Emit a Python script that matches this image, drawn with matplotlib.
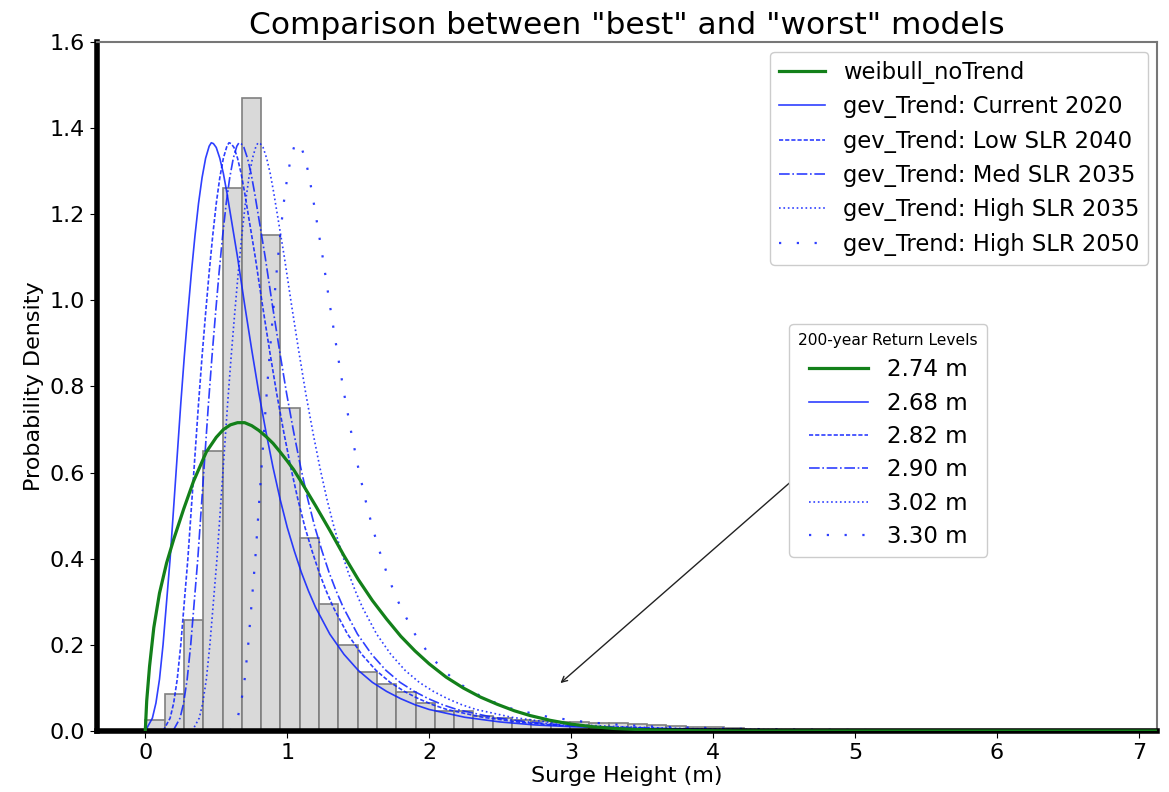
import numpy as np
import matplotlib
matplotlib.use("Agg")
import matplotlib.pyplot as plt
from matplotlib.lines import Line2D

# ---------------- data ----------------
hist_bin_width = 0.136
hist_heights = [0.026, 0.085, 0.258, 0.650, 1.262, 1.471, 1.151, 0.750, 0.448, 0.295,
                0.200, 0.136, 0.109, 0.091, 0.066, 0.046, 0.047, 0.036, 0.030, 0.026,
                0.024, 0.022, 0.020, 0.018, 0.018, 0.016, 0.013, 0.012, 0.010, 0.010, 0.008]

weibull_x = [0.0, 0.01, 0.03, 0.06, 0.10, 0.15, 0.20, 0.27, 0.34, 0.43, 0.50, 0.55, 0.60,
             0.65, 0.70, 0.75, 0.80, 0.85, 0.90, 0.95, 1.00, 1.045, 1.10, 1.20, 1.30, 1.40,
             1.50, 1.60, 1.70, 1.80, 1.90, 2.00, 2.12, 2.24, 2.36, 2.48, 2.60, 2.71, 2.85,
             3.00, 3.15, 3.30, 3.50, 3.80, 4.20, 7.20]
weibull_y = [0.0, 0.07, 0.15, 0.24, 0.32, 0.39, 0.445, 0.515, 0.580, 0.648, 0.682, 0.700, 0.711,
             0.716, 0.716, 0.709, 0.698, 0.684, 0.668, 0.648, 0.627, 0.607, 0.578, 0.523, 0.466, 0.407,
             0.352, 0.303, 0.260, 0.220, 0.186, 0.156, 0.125, 0.100, 0.079, 0.062, 0.047, 0.036, 0.025,
             0.016, 0.010, 0.006, 0.003, 0.001, 0.0, 0.0]

# GEV (Current 2020) density curve
gev_x = [0.0, 0.05, 0.075, 0.10, 0.125, 0.15, 0.175, 0.20, 0.225, 0.25, 0.275, 0.30, 0.325,
         0.35, 0.375, 0.40, 0.425, 0.45, 0.465, 0.48, 0.50, 0.525, 0.55, 0.575, 0.60, 0.65,
         0.70, 0.75, 0.80, 0.85, 0.90, 0.95, 1.00, 1.05, 1.10, 1.15, 1.20, 1.30, 1.40, 1.50,
         1.60, 1.70, 1.80, 1.90, 2.00, 2.25, 2.50, 2.75, 3.00, 3.50, 4.00, 5.00, 6.00, 7.50]
gev_y = [0.0, 0.03, 0.065, 0.12, 0.20, 0.30, 0.40, 0.52, 0.64, 0.76, 0.87, 0.97, 1.065,
         1.15, 1.225, 1.285, 1.33, 1.358, 1.366, 1.364, 1.355, 1.33, 1.295, 1.25, 1.20, 1.10,
         0.99, 0.885, 0.785, 0.695, 0.612, 0.538, 0.473, 0.418, 0.368, 0.325, 0.287, 0.225, 0.178, 0.141,
         0.113, 0.092, 0.075, 0.061, 0.050, 0.032, 0.021, 0.014, 0.010, 0.0055, 0.0032, 0.0013, 0.0006, 0.0002]
# location shift of each scenario's curve relative to Current 2020
gev_shift = [0.0, 0.125, 0.195, 0.33, 0.60]
gev_labels = ["gev_Trend: Current 2020", "gev_Trend: Low SLR 2040", "gev_Trend: Med SLR 2035",
              "gev_Trend: High SLR 2035", "gev_Trend: High SLR 2050"]
return_levels = ["2.74 m", "2.68 m", "2.82 m", "2.90 m", "3.02 m", "3.30 m"]

# ---------------- styling ----------------
plt.rcParams['font.family'] = ['DejaVu Sans']
blue = '#0a1eff'
green = '#13801a'
gev_styles = ['-', (0, (2.5, 1.2)), '-.', ':', (0, (1, 7))]
gev_lw = [1.2, 1.2, 1.2, 1.2, 1.6]

fig = plt.figure(figsize=(11.69, 7.92), dpi=100)
ax = fig.add_axes([0.083, 0.077, 0.907, 0.870])

edges = np.arange(len(hist_heights)) * hist_bin_width
ax.bar(edges, hist_heights, width=hist_bin_width, align='edge',
       color='#d9d9d9', edgecolor='#808080', linewidth=1.2, zorder=1)

wl, = ax.plot(weibull_x, weibull_y, color=green, lw=2.3, label='weibull_noTrend', zorder=3)
handles = [wl]
for s, lab, ls, lw in zip(gev_shift, gev_labels, gev_styles, gev_lw):
    h, = ax.plot(np.array(gev_x) + s, gev_y, color=blue, alpha=0.85, lw=lw, ls=ls,
                 label=lab, zorder=2)
    handles.append(h)

leg1 = ax.legend(handles=handles, loc='upper right', fontsize=16.3, handlelength=2.0,
                 bbox_to_anchor=(0.9915, 0.9855), borderaxespad=0.0, framealpha=1.0)
ax.add_artist(leg1)

h2 = [Line2D([], [], color=green, lw=2.3)]
for ls, lw in zip(gev_styles, gev_lw):
    h2.append(Line2D([], [], color=blue, alpha=0.85, lw=lw, ls=ls))
leg2 = ax.legend(handles=h2, labels=return_levels, loc='lower left',
                 bbox_to_anchor=(0.6528, 0.2525), borderaxespad=0.0, fontsize=16.5,
                 title='200-year Return Levels', title_fontsize=11.2,
                 handlelength=2.6, labelspacing=0.45, framealpha=1.0)

ax.annotate('', xy=(2.91, 0.107), xytext=(4.58, 0.588),
            arrowprops=dict(arrowstyle='->', color='#222222', lw=1.0))

ax.set_xlim(-0.34, 7.13)
ax.set_ylim(0, 1.6)
ax.set_yticks(np.arange(0, 1.61, 0.2))
ax.set_xticks(range(0, 8))
ax.tick_params(labelsize=16, length=5)
ax.set_title('Comparison between "best" and "worst" models', fontsize=22.5, pad=6)
ax.set_xlabel('Surge Height (m)', fontsize=16, labelpad=2)
ax.set_ylabel('Probability Density', fontsize=16)

for side in ['left', 'bottom']:
    ax.spines[side].set_linewidth(4)
    ax.spines[side].set_color('black')
for side in ['top', 'right']:
    ax.spines[side].set_linewidth(1.5)
    ax.spines[side].set_color('#777777')

fig.savefig('out.png', dpi=100)
